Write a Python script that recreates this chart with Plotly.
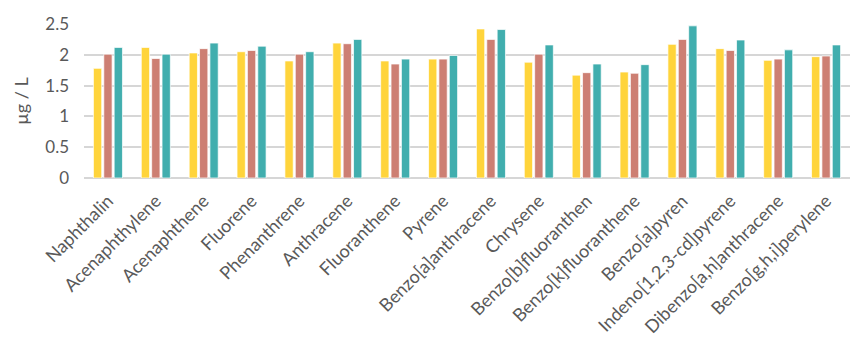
import plotly.graph_objects as go

compounds = [
    "Naphthalin", "Acenaphthylene", "Acenaphthene", "Fluorene", "Phenanthrene",
    "Anthracene", "Fluoranthene", "Pyrene", "Benzo[a]anthracene", "Chrysene",
    "Benzo[b]fluoranthen", "Benzo[k]fluoranthene", "Benzo[a]pyren",
    "Indeno[1,2,3-cd]pyrene", "Dibenzo[a,h]anthracene", "Benzo[g,h,i]perylene",
]

series_a = [1.78, 2.12, 2.03, 2.05, 1.90, 2.19, 1.90, 1.93, 2.42, 1.88,
            1.67, 1.72, 2.17, 2.10, 1.91, 1.97]
series_b = [2.01, 1.94, 2.10, 2.07, 2.01, 2.18, 1.85, 1.93, 2.25, 2.01,
            1.71, 1.70, 2.25, 2.07, 1.93, 1.98]
series_c = [2.12, 2.01, 2.19, 2.14, 2.05, 2.25, 1.93, 1.99, 2.41, 2.16,
            1.85, 1.84, 2.47, 2.24, 2.08, 2.16]

colors = ["#FFD43B", "#CD7F73", "#41AEAE"]

fig = go.Figure()
for vals, col in zip([series_a, series_b, series_c], colors):
    fig.add_trace(go.Bar(
        x=compounds, y=vals,
        marker=dict(color=col, line=dict(color="rgba(255,255,255,0.7)", width=1)),
        showlegend=False,
    ))

font_family = "Lato, 'Open Sans', sans-serif"

fig.update_layout(
    width=865, height=350,
    margin=dict(l=84, r=15, t=24, b=172),
    paper_bgcolor="white", plot_bgcolor="white",
    barmode="group", bargap=0.35, bargroupgap=0.2,
    font=dict(family=font_family, color="#595959"),
    xaxis=dict(
        tickangle=-45, tickfont=dict(size=18, color="#595959"),
        showgrid=False, ticks="", showline=False, automargin=False,
        ticklabelstandoff=8,
    ),
    yaxis=dict(
        range=[0, 2.5], dtick=0.5,
        tickfont=dict(size=17, color="#595959"),
        showgrid=True, gridcolor="#D6D6D6", gridwidth=1.5,
        zeroline=True, zerolinecolor="#D6D6D6", zerolinewidth=1.5,
        ticks="", ticklabelstandoff=14, automargin=False,
        title=dict(text="µg / L", font=dict(size=18, color="#595959"), standoff=11),
    ),
)

fig.write_html("out.html")
